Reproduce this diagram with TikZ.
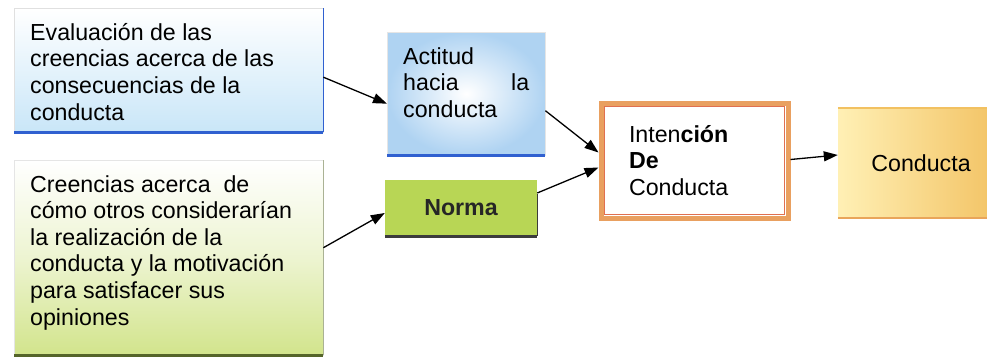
\documentclass[tikz,border=0pt]{standalone}
\usepackage{fontspec}
\setmainfont{Liberation Sans}
\usepackage{tikz}
\usetikzlibrary{arrows.meta}

\definecolor{evalblue}{HTML}{C9E6F8}
\definecolor{evalline}{HTML}{3060D0}
\definecolor{creengreen}{HTML}{D2E48C}
\definecolor{creenline}{HTML}{55652A}
\definecolor{actblue}{HTML}{AFD3F2}
\definecolor{normagreen}{HTML}{B8D655}
\definecolor{normaline}{HTML}{3C3C3C}
\definecolor{intorange}{HTML}{E9A060}
\definecolor{intinner}{HTML}{E07050}
\definecolor{condleft}{HTML}{FFF0B5}
\definecolor{condlight}{HTML}{FFFBEA}
\definecolor{conddark}{HTML}{F2C161}
\definecolor{condline}{HTML}{E9A55A}
\newcommand{\txtsize}{\fontsize{23.2}{26.6}\selectfont}

\begin{document}
\begin{tikzpicture}[x=1pt, y=-1pt, font=\txtsize,
  txtbox/.style={anchor=north west, inner xsep=16pt, inner ysep=15pt, align=left},
  flecha/.style={line width=1.3pt, -{Triangle[length=14pt,width=10pt]}}]
\useasboundingbox (0,0) rectangle (987,360);

% cajas de la izquierda
\node[txtbox, top color=white, bottom color=evalblue, draw=black!12] (eval) at (14,8) {\parbox[c][94pt][t]{277pt}{Evaluación de las\\ creencias acerca de las\\ consecuencias de la\\ conducta}};
\draw[evalline, line width=3pt] (eval.south west) -- (eval.south east);
\draw[evalline, line width=1.2pt] (eval.north east) -- (eval.south east);

\node[txtbox, top color=white, bottom color=creengreen, middle color=white!60!creengreen, draw=black!10] (creen) at (14,160) {\parbox[c][165pt][t]{277pt}{Creencias acerca \ de\\ cómo otros considerarían\\ la realización de la\\ conducta y la motivación\\ para satisfacer sus\\ opiniones}};
\draw[creenline, line width=3pt] (creen.south west) -- (creen.south east);
\draw[creenline!50, line width=1pt] (creen.north east) -- (creen.south east);

% cajas del centro
\node[txtbox, inner color=white, outer color=actblue, draw=black!10] (act) at (387,32) {\parbox[c][93pt][t]{126pt}{Actitud\\ hacia\hfill la\\ conducta}};
\draw[evalline, line width=3pt] (act.south west) -- (act.south east);

\node[fill=normagreen, minimum width=152pt, minimum height=56pt, font=\txtsize\bfseries, text=black!85] (norma) at (461,208) {Norma};
\draw[normaline, line width=3pt] (norma.south west) -- (norma.south east);
\draw[normaline, line width=1pt] ([yshift=-14pt]norma.north east) -- (norma.south east);

% cajas de la derecha
\node[draw=intorange, line width=5pt, fill=white, minimum width=187pt, minimum height=115pt, text width=131pt, inner xsep=28pt, align=left] (int) at (694.5,160.5) {Inten\textbf{ción}\\ \textbf{De}\\ Conducta};
\draw[intinner, line width=0.6pt] ([shift={(6pt,-6pt)}]int.north west) rectangle ([shift={(-6pt,6pt)}]int.south east);

\node[left color=condleft, middle color=condlight, right color=conddark, minimum width=166pt, minimum height=110pt] (cond) at (921,163) {Conducta};
\draw[condline, line width=2.5pt] (cond.south west) -- (cond.south east);
\draw[conddark, line width=1.5pt] (cond.north west) -- (cond.north east);

% flechas
\draw[flecha] ([yshift=-7pt]eval.east) -- ([yshift=-10pt]act.west);
\draw[flecha] ([yshift=10pt]creen.east) -- ([yshift=-5pt]norma.west);
\draw[flecha] ([yshift=-17pt]act.east) -- ([yshift=8pt]int.west);
\draw[flecha] ([yshift=15pt]norma.east) -- ([yshift=-7pt]int.west);
\draw[flecha] ([yshift=1pt]int.east) -- ([yshift=8pt]cond.west);
\end{tikzpicture}
\end{document}
